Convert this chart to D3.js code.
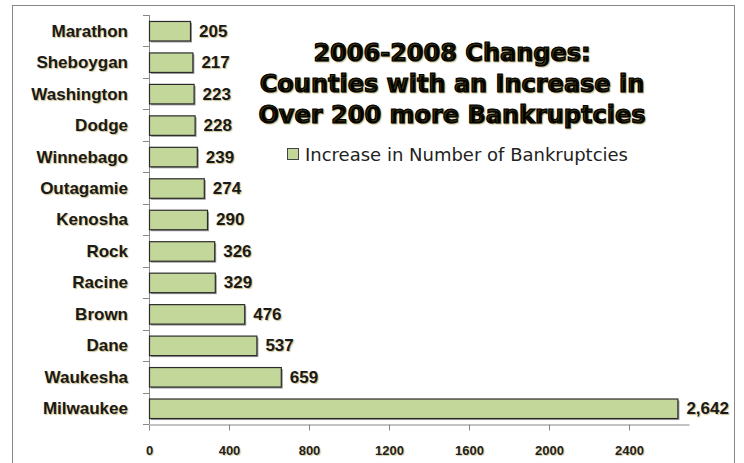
<!DOCTYPE html>
<html lang="en">
<head>
    <meta charset="UTF-8">
    <title>2006-2008 Changes</title>
    <script src="https://d3js.org/d3.v7.min.js"></script>
    <style>
        body { margin: 0; background: #fff; }
        text { font-family: "Liberation Sans", Arial, sans-serif; }
        .cat, .val { font-size: 17px; font-weight: bold; fill: #1a1a1a; text-shadow: 1px 1px 1px rgba(160,140,50,0.55); }
        .xtick { font-size: 13px; font-weight: bold; fill: #222; text-shadow: 1px 1px 1px rgba(160,140,50,0.45); }
        .title { font-size: 24px; font-weight: 900; fill: #000; stroke: #000; stroke-width: 1.2; font-family: "DejaVu Sans", sans-serif; text-shadow: 1px 1px 1px rgba(160,140,50,0.5); }
        .legend { font-size: 18px; fill: #222; font-family: "DejaVu Sans", sans-serif; }
    </style>
</head>
<body>
    <svg width="744" height="463"></svg>

    <script>
        const counties = ["Marathon", "Sheboygan", "Washington", "Dodge", "Winnebago", "Outagamie",
            "Kenosha", "Rock", "Racine", "Brown", "Dane", "Waukesha", "Milwaukee"];
        const increases = [205, 217, 223, 228, 239, 274, 290, 326, 329, 476, 537, 659, 2642];
        const xTicks = [0, 400, 800, 1200, 1600, 2000, 2400];
        const titleLines = ["2006-2008 Changes:", "Counties with an Increase in", "Over 200 more Bankruptcies"];
        const seriesName = "Increase in Number of Bankruptcies";

        const data = counties.map((c, i) => ({ county: c, value: increases[i] }));

        const svg = d3.select("svg");

        // outer chart frame
        svg.append("rect")
            .attr("x", 12.5).attr("y", 5.5)
            .attr("width", 722).attr("height", 470)
            .attr("fill", "none").attr("stroke", "#888").attr("stroke-width", 1);

        const plotLeft = 149, plotTop = 15, plotRight = 689, plotBottom = 424;

        const x = d3.scaleLinear().domain([0, 2700]).range([plotLeft, plotRight]);
        const y = d3.scaleBand().domain(counties).range([plotTop, plotBottom]).paddingInner(0.38).paddingOuter(0.19);

        // y axis line and category boundary ticks
        svg.append("line")
            .attr("x1", plotLeft + 0.5).attr("x2", plotLeft + 0.5)
            .attr("y1", plotTop).attr("y2", plotBottom)
            .attr("stroke", "#888");
        svg.selectAll(".ytick")
            .data(d3.range(counties.length + 1))
            .join("line")
            .attr("x1", plotLeft - 6).attr("x2", plotLeft)
            .attr("y1", i => Math.round(plotTop + i * (plotBottom - plotTop) / counties.length) + 0.5)
            .attr("y2", i => Math.round(plotTop + i * (plotBottom - plotTop) / counties.length) + 0.5)
            .attr("stroke", "#888");

        // x axis
        const xAxis = svg.append("g")
            .attr("transform", `translate(0,${plotBottom + 0.5})`)
            .call(d3.axisBottom(x).tickValues(xTicks).tickFormat(d3.format("d"))
                .tickSize(6).tickPadding(15).tickSizeOuter(0));
        xAxis.select(".domain").attr("stroke", "#888");
        xAxis.selectAll(".tick line").attr("stroke", "#888");
        xAxis.selectAll(".tick text").attr("class", "xtick").attr("font-family", null).attr("font-size", null);

        // bar shadows
        svg.selectAll(".shadow")
            .data(data)
            .join("rect")
            .attr("x", x(0) + 2)
            .attr("y", d => y(d.county) + 2)
            .attr("width", d => x(d.value) - x(0))
            .attr("height", y.bandwidth())
            .attr("fill", "#555")
            .attr("opacity", 0.6);

        // bars
        svg.selectAll(".bar")
            .data(data)
            .join("rect")
            .attr("x", x(0) + 0.5)
            .attr("y", d => y(d.county) + 0.5)
            .attr("width", d => x(d.value) - x(0))
            .attr("height", y.bandwidth())
            .attr("fill", "#c4d79b")
            .attr("stroke", "#2b2b2b")
            .attr("stroke-width", 1.2);

        // category labels
        svg.selectAll(".cat")
            .data(data)
            .join("text")
            .attr("class", "cat")
            .attr("x", 128)
            .attr("y", d => y(d.county) + y.bandwidth() / 2)
            .attr("dy", "0.35em")
            .attr("text-anchor", "end")
            .text(d => d.county);

        // value labels
        svg.selectAll(".val")
            .data(data)
            .join("text")
            .attr("class", "val")
            .attr("x", d => x(d.value) + 9)
            .attr("y", d => y(d.county) + y.bandwidth() / 2)
            .attr("dy", "0.35em")
            .text(d => d3.format(",")(d.value));

        // title
        svg.selectAll(".title")
            .data(titleLines)
            .join("text")
            .attr("class", "title")
            .attr("x", 452)
            .attr("y", (d, i) => 61 + i * 31)
            .attr("text-anchor", "middle")
            .text(d => d);

        // legend
        svg.append("rect")
            .attr("x", 287.5).attr("y", 148.5)
            .attr("width", 11).attr("height", 11)
            .attr("fill", "#c4d79b").attr("stroke", "#444");
        svg.append("text")
            .attr("class", "legend")
            .attr("x", 305).attr("y", 155)
            .attr("dy", "0.35em")
            .text(seriesName);
    </script>
</body>
</html>
